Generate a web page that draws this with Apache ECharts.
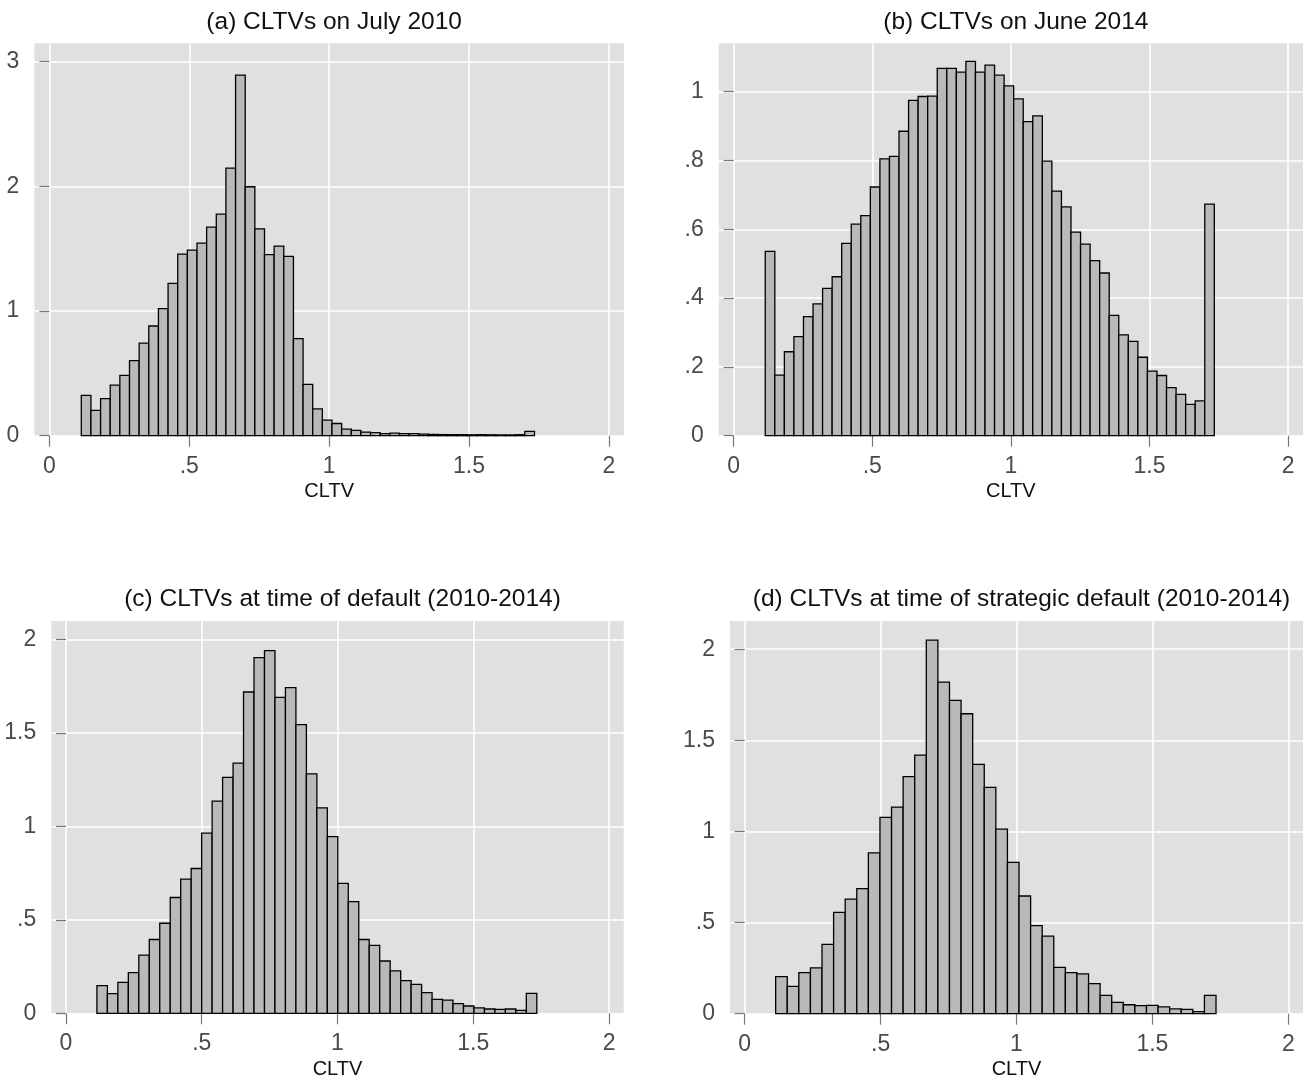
<!DOCTYPE html>
<html>
<head>
<meta charset="utf-8">
<script src="https://cdn.jsdelivr.net/npm/echarts@6/dist/echarts.min.js"></script>
<style>
html,body{margin:0;padding:0;background:#fff;}
#chart{width:1305px;height:1085px;}
</style>
</head>
<body>
<div id="chart"></div>
<script>
// ---- data (density heights) ----
const titles = [
  "(a) CLTVs on July 2010",
  "(b) CLTVs on June 2014",
  "(c) CLTVs at time of default (2010-2014)",
  "(d) CLTVs at time of strategic default (2010-2014)"
];
const xTicks = [0, 0.5, 1, 1.5, 2];
const yTicksA = [0, 1, 2, 3];
const yTicksB = [0, 0.2, 0.4, 0.6, 0.8, 1];
const yTicksC = [0, 0.5, 1, 1.5, 2];
const yTicksD = [0, 0.5, 1, 1.5, 2];
const binLow = 0.114;   // lowest CLTV bin edge
const binHigh = 1.734;  // highest CLTV bin edge

const densA = [0.324,0.203,0.297,0.406,0.484,0.602,0.743,0.880,1.019,1.222,1.457,1.489,1.545,1.674,1.778,2.147,2.893,1.997,1.660,1.452,1.521,1.439,0.778,0.412,0.215,0.125,0.098,0.052,0.042,0.029,0.024,0.016,0.021,0.016,0.016,0.012,0.010,0.009,0.008,0.008,0.007,0.008,0.007,0.006,0.006,0.008,0.035];
const densB = [0.536,0.176,0.244,0.288,0.346,0.383,0.428,0.462,0.559,0.615,0.640,0.723,0.805,0.812,0.885,0.975,0.986,0.987,1.068,1.068,1.057,1.088,1.057,1.077,1.048,1.017,0.979,0.913,0.930,0.798,0.711,0.665,0.592,0.557,0.509,0.473,0.350,0.293,0.274,0.228,0.188,0.175,0.140,0.120,0.091,0.101,0.673];
const densC = [0.148,0.105,0.166,0.218,0.311,0.395,0.482,0.620,0.718,0.775,0.964,1.136,1.263,1.339,1.720,1.904,1.941,1.691,1.743,1.545,1.282,1.100,0.946,0.696,0.598,0.395,0.364,0.280,0.227,0.175,0.155,0.111,0.075,0.070,0.052,0.039,0.029,0.023,0.021,0.023,0.016,0.107];
const densD = [0.203,0.150,0.225,0.251,0.380,0.556,0.629,0.686,0.883,1.077,1.134,1.301,1.419,2.050,1.820,1.719,1.646,1.368,1.242,1.013,0.830,0.646,0.483,0.426,0.254,0.225,0.219,0.165,0.101,0.062,0.049,0.044,0.046,0.037,0.027,0.024,0.011,0.101];

// ---- layout / style ----
const FONT = '"Liberation Sans", Arial, sans-serif';
const grids = [
  {left: 34.3, top: 43.3, width: 589.7, height: 392.4},
  {left: 718.7, top: 43.3, width: 584.3, height: 392.4},
  {left: 51.3, top: 621, width: 572.4, height: 392.3},
  {left: 730, top: 621, width: 573, height: 392.7}
];
const yMax = [3.148, 1.1407, 2.10, 2.155];
const yTicks = [yTicksA, yTicksB, yTicksC, yTicksD];
const dens = [densA, densB, densC, densD];
const xPad = 0.054;

function fmt(v){ return String(+v.toFixed(3)).replace(/^0\./, '.'); }

function bins(h){
  const w = (binHigh - binLow) / h.length;
  return h.map((v, i) => [binLow + i*w, binLow + (i+1)*w, v]);
}

const option = {
  backgroundColor: '#ffffff',
  animation: false,
  title: grids.map((g, i) => ({
    text: titles[i],
    left: g.left + g.width/2,
    top: i < 2 ? 5 : 582,
    textAlign: 'center',
    textStyle: {fontFamily: FONT, fontSize: 24.5, fontWeight: 'normal', color: '#111'}
  })),
  grid: grids.map(g => Object.assign({show: true, backgroundColor: '#e0e0e0', borderWidth: 0, containLabel: false}, g)),
  xAxis: grids.map((g, i) => ({
    type: 'value', gridIndex: i, min: -xPad, max: 2 + xPad,
    name: 'CLTV', nameLocation: 'middle', nameGap: 46,
    nameTextStyle: {fontFamily: FONT, fontSize: 20, color: '#111'},
    axisLine: {show: false},
    axisTick: {show: true, length: 11, customValues: xTicks, lineStyle: {color: '#777', width: 1.2}},
    axisLabel: {customValues: xTicks, formatter: fmt, margin: 19, fontFamily: FONT, fontSize: 23, color: '#4a4a4a'},
    splitLine: {show: true, lineStyle: {color: '#ffffff', width: 1.6}}
  })),
  yAxis: grids.map((g, i) => ({
    type: 'value', gridIndex: i, min: 0, max: yMax[i],
    axisLine: {show: false},
    axisTick: {show: true, length: 10, customValues: yTicks[i], lineStyle: {color: '#777', width: 1.2}},
    axisLabel: {customValues: yTicks[i], formatter: fmt, margin: 15, fontFamily: FONT, fontSize: 23, color: '#4a4a4a'},
    splitLine: {show: true, lineStyle: {color: '#ffffff', width: 1.6}}
  })),
  series: dens.map((h, i) => ({
    type: 'custom',
    xAxisIndex: i, yAxisIndex: i,
    data: bins(h),
    encode: {x: [0, 1], y: 2},
    renderItem: function(params, api){
      const p0 = api.coord([api.value(0), api.value(2)]);
      const p1 = api.coord([api.value(1), 0]);
      return {
        type: 'rect',
        shape: {x: p0[0], y: p0[1], width: p1[0] - p0[0], height: p1[1] - p0[1]},
        style: {fill: '#b9b9b9', stroke: '#000', lineWidth: 1.3}
      };
    }
  }))
};

const chart = echarts.init(document.getElementById('chart'), null, {renderer: 'canvas'});
chart.setOption(option);
</script>
</body>
</html>
